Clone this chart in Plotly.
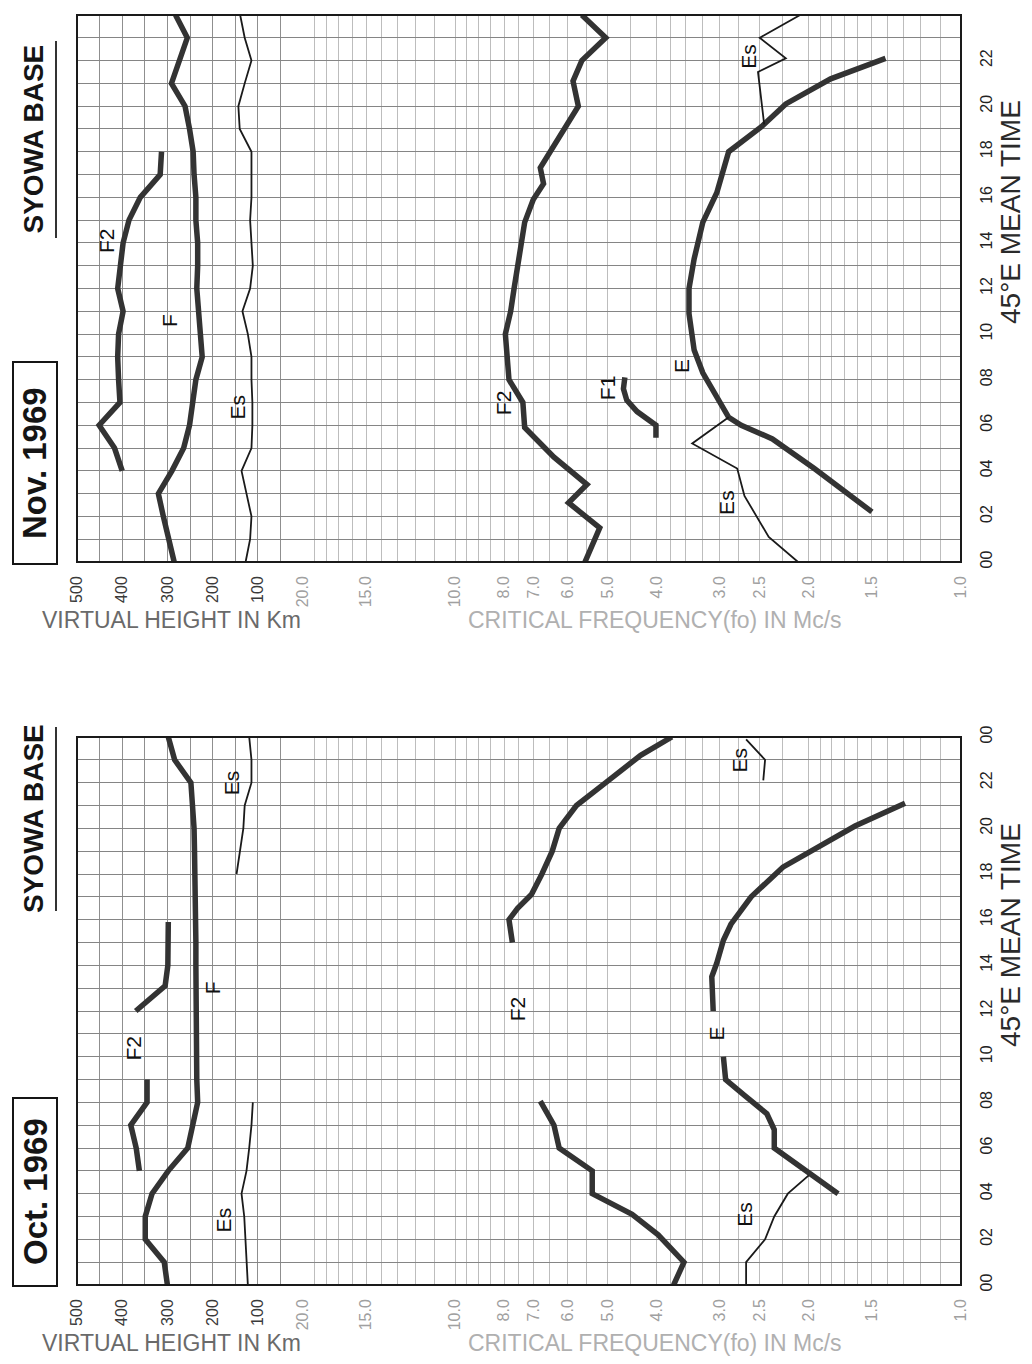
import math
import plotly.graph_objects as go

# ------------------------------------------------------------------ data
HOURS = list(range(25))
TIME_TICKS = ["00", "02", "04", "06", "08", "10", "12", "14", "16", "18", "20", "22", "00"]
HEIGHT_TICKS = [500, 400, 300, 200, 100]
FREQ_TICKS = [20, 15, 10, 8, 7, 6, 5, 4, 3, 2.5, 2, 1.5, 1]
FREQ_TICK_TEXT = ["20.0", "15.0", "10.0", "8.0", "7.0", "6.0", "5.0", "4.0", "3.0", "2.5", "2.0", "1.5", "1.0"]

# ---- Nov. 1969 : virtual heights (km)
NOV_F_T = HOURS
NOV_F_H = [285, 298, 309, 320, 290, 264, 251, 244, 237, 223, 228, 233, 235, 233, 233,
           237, 237, 241, 243, 251, 261, 291, 273, 256, 282]
NOV_F2H_T = [4, 5, 6, 7, 8, 9, 10, 11, 12, 13, 14, 15, 16, 17, 18]
NOV_F2H_H = [400, 417, 451, 405, 408, 410, 408, 398, 410, 403, 398, 385, 360, 316, 313]
NOV_ESH_T = HOURS
NOV_ESH_H = [127, 117, 114, 125, 136, 114, 112, 112, 114, 114, 122, 134, 117, 111, 114,
             117, 114, 114, 114, 140, 143, 129, 114, 129, 139]
# ---- Nov. 1969 : critical frequencies (Mc/s)
NOV_F2F_T = [0, 1.5, 2.6, 3.4, 4.6, 5.9, 7, 8, 10, 11, 12, 13, 14.9, 15.9, 16.6, 17.3,
             18.3, 20, 21.1, 22, 23, 24]
NOV_F2F_F = [5.54, 5.18, 5.97, 5.49, 6.38, 7.29, 7.35, 7.83, 7.96, 7.77, 7.65, 7.53, 7.29,
             7.01, 6.69, 6.79, 6.38, 5.71, 5.85, 5.62, 5.04, 5.62]
NOV_F1_T = [5.45, 6.0, 6.6, 7.1, 7.6, 8.1]
NOV_F1_F = [4.01, 4.01, 4.37, 4.58, 4.65, 4.62]
NOV_E_T = [2.2, 4.1, 5.4, 6.0, 6.35, 7.2, 8.3, 9.3, 10.9, 12.0, 13.3, 14.9, 16.2, 18.0,
           19.1, 20.1, 21.2, 22.1]
NOV_E_F = [1.50, 1.95, 2.36, 2.72, 2.88, 3.04, 3.24, 3.37, 3.45, 3.45, 3.37, 3.24, 3.04,
           2.88, 2.48, 2.22, 1.81, 1.41]
NOV_ES1_T = [0, 1.1, 2.9, 4.1, 5.2, 6.35]
NOV_ES1_F = [2.10, 2.40, 2.68, 2.77, 3.40, 2.88]
NOV_ES2_T = [19.2, 21.5, 22.1, 23.0, 24]
NOV_ES2_F = [2.45, 2.52, 2.22, 2.50, 2.08]

# ---- Oct. 1969 : virtual heights (km)
OCT_F_T = HOURS
OCT_F_H = [300, 307, 349, 349, 334, 298, 255, 244, 233, 235, 236, 237, 237, 237, 237,
           237, 237, 238, 239, 240, 241, 244, 248, 284, 298]
OCT_F2H_A_T = [5, 6, 7, 8, 9]
OCT_F2H_A_H = [362, 369, 381, 345, 345]
OCT_F2H_B_T = [12, 13.1, 14, 15, 15.9]
OCT_F2H_B_H = [370, 305, 299, 298, 298]
OCT_ESH_A_T = [0, 1, 2, 3, 4, 5, 6, 7, 8]
OCT_ESH_A_H = [122, 125, 127, 130, 136, 125, 119, 114, 111]
OCT_ESH_B_T = [18, 19, 20, 21, 22, 23, 24]
OCT_ESH_B_H = [147, 140, 132, 129, 114, 114, 119]
# ---- Oct. 1969 : critical frequencies (Mc/s)
OCT_F2F_A_T = [0, 1, 2.2, 3.1, 4, 5, 6, 7, 8.05]
OCT_F2F_A_F = [3.70, 3.53, 3.97, 4.47, 5.36, 5.36, 6.23, 6.38, 6.79]
OCT_F2F_B_T = [15.0, 16.0, 16.5, 17.1, 18, 19, 20, 21, 22, 22.4, 23.2, 24]
OCT_F2F_B_F = [7.71, 7.83, 7.53, 7.07, 6.74, 6.43, 6.23, 5.76, 5.04, 4.77, 4.30, 3.73]
OCT_E_A_T = [4, 5, 6, 6.8, 7.5, 8.3, 9.0, 10.0]
OCT_E_A_F = [1.75, 2.02, 2.34, 2.34, 2.42, 2.68, 2.92, 2.95]
OCT_E_B_T = [12.0, 13.5, 14.1, 15.1, 15.8, 17.0, 18.3, 19.1, 20.1, 21.1]
OCT_E_B_F = [3.09, 3.11, 3.04, 2.95, 2.85, 2.60, 2.25, 1.95, 1.62, 1.29]
OCT_ES_A_T = [0, 1, 2, 3, 4, 4.8]
OCT_ES_A_F = [2.66, 2.66, 2.44, 2.34, 2.20, 2.00]
OCT_ES_B_T = [22.1, 23.0, 23.9]
OCT_ES_B_F = [2.46, 2.44, 2.66]

# curve labels: (text, value, hour)
NOV_LABELS_H = [("F2", 435, 14.1), ("F", 295, 10.6), ("Es", 147, 6.8)]
NOV_LABELS_F = [("F2", 8.02, 7.0), ("F1", 5.0, 7.65), ("E", 3.56, 8.6),
                ("Es", 2.90, 2.6), ("Es", 2.64, 22.2)]
OCT_LABELS_H = [("F2", 374, 10.4), ("F", 201, 13.0), ("Es", 158, 22.0), ("Es", 176, 2.85)]
OCT_LABELS_F = [("F2", 7.53, 12.1), ("E", 3.04, 11.0), ("Es", 2.68, 3.1), ("Es", 2.74, 23.0)]

# ------------------------------------------------------------------ layout helpers
# The page body has an 8 px margin, so the figure is drawn 8 px smaller on each
# side and all reference-pixel positions are shifted by that offset.
OFF = 8
W, H = 1032 - OFF, 1364 - 2 * OFF
FRAME_L, FRAME_R = 77, 961          # reference pixels of the frame edges
ML = FRAME_L - OFF
MR = W - (FRAME_R - OFF)
PW = W - ML - MR
SPLIT = 226 / 884.0                 # 0 km / 20 Mc/s boundary


def px(x):
    return (x - OFF - ML) / PW


def py(y):
    return (H - (y - OFF)) / H


PANELS = {1: (15, 562), 2: (737, 1285)}   # reference pixel top/bottom of each frame

# grid values
height_grid = [500 - 50 * i for i in range(11)]
freq_grid = [float(v) for v in range(20, 10, -1)]
freq_grid += [round(10 - 0.5 * i, 2) for i in range(12)]
freq_grid += [round(4 - 0.25 * i, 2) for i in range(8)]
freq_grid += [round(2 - 0.1 * i, 2) for i in range(11)]
freq_text = [FREQ_TICK_TEXT[FREQ_TICKS.index(v)] if v in FREQ_TICKS else "" for v in freq_grid]
height_text = [str(v) if v in HEIGHT_TICKS else "" for v in height_grid]
time_text = [TIME_TICKS[h // 2] if h % 2 == 0 else "" for h in HOURS]

FONT = "Liberation Sans, Arial, sans-serif"
THICK = dict(color="#333333", width=5.5)
THIN = dict(color="#1a1a1a", width=1.8)

fig = go.Figure()


def add(xs, ts, xa, ya, style):
    fig.add_trace(go.Scatter(x=xs, y=ts, xaxis=xa, yaxis=ya, mode="lines",
                             line=style, hoverinfo="skip", showlegend=False))


# Nov (top panel): x / x2 with y
add(NOV_F_H, NOV_F_T, "x", "y", THICK)
add(NOV_F2H_H, NOV_F2H_T, "x", "y", THICK)
add(NOV_ESH_H, NOV_ESH_T, "x", "y", THIN)
add(NOV_F2F_F, NOV_F2F_T, "x2", "y", THICK)
add(NOV_F1_F, NOV_F1_T, "x2", "y", THICK)
add(NOV_E_F, NOV_E_T, "x2", "y", THICK)
add(NOV_ES1_F, NOV_ES1_T, "x2", "y", THIN)
add(NOV_ES2_F, NOV_ES2_T, "x2", "y", THIN)

# Oct (bottom panel): x3 / x4 with y2
add(OCT_F_H, OCT_F_T, "x3", "y2", THICK)
add(OCT_F2H_A_H, OCT_F2H_A_T, "x3", "y2", THICK)
add(OCT_F2H_B_H, OCT_F2H_B_T, "x3", "y2", THICK)
add(OCT_ESH_A_H, OCT_ESH_A_T, "x3", "y2", THIN)
add(OCT_ESH_B_H, OCT_ESH_B_T, "x3", "y2", THIN)
add(OCT_F2F_A_F, OCT_F2F_A_T, "x4", "y2", THICK)
add(OCT_F2F_B_F, OCT_F2F_B_T, "x4", "y2", THICK)
add(OCT_E_A_F, OCT_E_A_T, "x4", "y2", THICK)
add(OCT_E_B_F, OCT_E_B_T, "x4", "y2", THICK)
add(OCT_ES_A_F, OCT_ES_A_T, "x4", "y2", THIN)
add(OCT_ES_B_F, OCT_ES_B_T, "x4", "y2", THIN)


def height_axis(anchor):
    return dict(domain=[0, SPLIT], range=[500, 0], anchor=anchor, automargin=False,
                tickmode="array", tickvals=height_grid, ticktext=height_text,
                tickangle=-90, ticks="", ticklabelstandoff=10,
                tickfont=dict(family=FONT, size=16, color="#3a3a3a"),
                showgrid=True, gridcolor="#8f8f8f", gridwidth=1,
                zeroline=False, showline=False)


def freq_axis(anchor):
    return dict(domain=[SPLIT, 1], type="log", range=[math.log10(20), 0], anchor=anchor,
                automargin=False,
                tickmode="array", tickvals=freq_grid, ticktext=freq_text,
                tickangle=-90, ticks="", ticklabelstandoff=10,
                tickfont=dict(family=FONT, size=16, color="#a0a0a0"),
                showgrid=True, gridcolor="#bdbdbd", gridwidth=1,
                zeroline=False, showline=False)


def time_axis(panel, anchor):
    top, bot = PANELS[panel]
    return dict(domain=[py(bot), py(top)], range=[0, 24], anchor=anchor, side="right",
                automargin=False,
                tickmode="array", tickvals=HOURS, ticktext=time_text,
                tickangle=-90, ticks="", ticklabelstandoff=14,
                tickfont=dict(family=FONT, size=16, color="#222222"),
                showgrid=True, gridcolor="#858585", gridwidth=1,
                zeroline=False, showline=False)


fig.update_layout(
    width=W, height=H,
    margin=dict(l=ML, r=MR, t=0, b=0, pad=0, autoexpand=False),
    paper_bgcolor="white", plot_bgcolor="white",
    showlegend=False, hovermode=False,
    xaxis=height_axis("y"), xaxis2=freq_axis("y"),
    xaxis3=height_axis("y2"), xaxis4=freq_axis("y2"),
    yaxis=time_axis(1, "x2"), yaxis2=time_axis(2, "x4"),
)

shapes = []
annotations = []


def note(text, x, y, size, color, angle=0, bold=False, family=FONT):
    annotations.append(dict(text=("<b>%s</b>" % text) if bold else text,
                            xref="paper", yref="paper", x=x, y=y,
                            xanchor="center", yanchor="middle", textangle=angle,
                            showarrow=False, font=dict(family=family, size=size, color=color)))


for p in (1, 2):
    top, bot = PANELS[p]
    # panel frame
    shapes.append(dict(type="rect", xref="paper", yref="paper", x0=0, x1=1,
                       y0=py(bot), y1=py(top), line=dict(color="#1a1a1a", width=2)))
    # axis titles along the bottom
    note("VIRTUAL HEIGHT IN Km", px(171), py(bot + 58), 23, "#6a6a6a")
    note("CRITICAL FREQUENCY(fo) IN Mc/s", px(655), py(bot + 58), 23, "#b0b0b0")
    # time axis title
    note("45°E MEAN TIME", px(1010), py(bot - 350), 28, "#2a2a2a", angle=-90)

# station names and month boxes (left side)
TITLE_POS = {1: (41, 238, 362, 564, "Nov. 1969"), 2: (727, 911, 1098, 1286, "Oct. 1969")}
for p, (s0, s1, b0, b1, month) in TITLE_POS.items():
    note("SYOWA BASE", px(33), py((s0 + s1) / 2), 28, "#151515", angle=-90, bold=True)
    shapes.append(dict(type="line", xref="paper", yref="paper", x0=px(56), x1=px(56),
                       y0=py(s1), y1=py(s0), line=dict(color="#333333", width=2)))
    shapes.append(dict(type="rect", xref="paper", yref="paper", x0=px(13), x1=px(57),
                       y0=py(b1), y1=py(b0), line=dict(color="#151515", width=2)))
    note(month, px(35), py((b0 + b1) / 2), 33, "#151515", angle=-90, bold=True)


def curve_labels(labels, xref, yref, log=False):
    for text, v, t in labels:
        annotations.append(dict(text=text, xref=xref, yref=yref,
                                x=math.log10(v) if log else v, y=t,
                                xanchor="center", yanchor="middle",
                                textangle=-90, showarrow=False,
                                font=dict(family=FONT, size=21, color="#111111")))


curve_labels(NOV_LABELS_H, "x", "y")
curve_labels(NOV_LABELS_F, "x2", "y", log=True)
curve_labels(OCT_LABELS_H, "x3", "y2")
curve_labels(OCT_LABELS_F, "x4", "y2", log=True)

fig.update_layout(shapes=shapes, annotations=annotations)
fig.write_html("out.html")
